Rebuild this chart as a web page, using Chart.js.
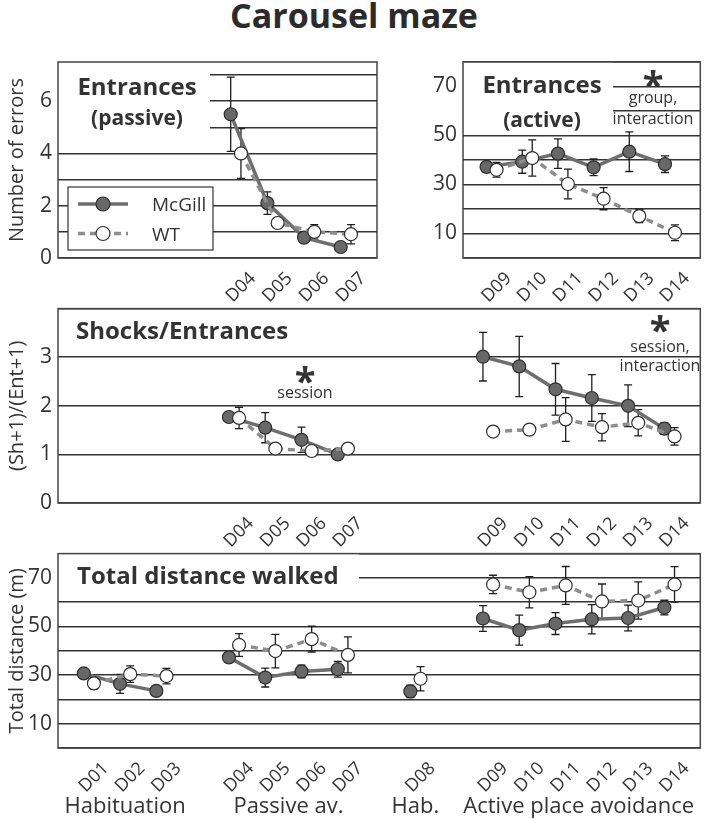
<!DOCTYPE html>
<html>
<head>
<meta charset="utf-8">
<script src="https://cdn.jsdelivr.net/npm/chart.js@4"></script>
<style>
body { margin: 0; background: #fff; }
#page { position: relative; width: 708px; height: 819px; overflow: hidden; font-family: "Open Sans", sans-serif; }
#title { position: absolute; left: 0; width: 708px; top: -5px; line-height: 40px; text-align: center; font-weight: 700; font-size: 34px; color: #2b2b2b; }
canvas { position: absolute; left: 0; }
</style>
</head>
<body>
<div id="page">
  <div id="title">Carousel maze</div>
  <canvas id="passive" width="708" height="263" style="top:40px"></canvas>
  <canvas id="active" width="708" height="263" style="top:40px"></canvas>
  <canvas id="shocks" width="708" height="258" style="top:290px"></canvas>
  <canvas id="distance" width="708" height="285" style="top:535px"></canvas>
</div>
<script>
// session tick labels, '' = empty slot between phases
const sessions = ['D01','D02','D03','','D04','D05','D06','D07','','D08','','D09','D10','D11','D12','D13','D14'];

// Entrances, passive avoidance
const passiveDays = ['D04','D05','D06','D07'];
const passiveMcGill = [5.5, 2.1, 0.78, 0.42];
const passiveMcGillSem = [1.42, 0.43, 0.1, 0.15];
const passiveWT = [4.0, 1.34, 1.0, 0.91];
const passiveWTSem = [0.95, 0.18, 0.28, 0.37];

// Entrances, active place avoidance
const activeDays = ['D09','D10','D11','D12','D13','D14'];
const activeMcGill = [37.2, 39.3, 42.6, 37.0, 43.4, 38.3];
const activeMcGillSem = [2.0, 4.7, 6.0, 3.4, 8.1, 3.4];
const activeWT = [36.0, 40.8, 30.2, 24.2, 17.1, 10.3];
const activeWTSem = [3.0, 7.4, 6.1, 4.5, 2.7, 3.2];

// Shocks/Entrances
const shockDays = ['D04','D05','D06','D07','D09','D10','D11','D12','D13','D14'];
const shockMcGill = [1.77, 1.55, 1.3, 1.0, 3.01, 2.81, 2.34, 2.16, 2.0, 1.53];
const shockMcGillSem = [0.08, 0.31, 0.26, 0.04, 0.5, 0.62, 0.53, 0.48, 0.43, 0.12];
const shockWT = [1.75, 1.12, 1.07, 1.12, 1.47, 1.51, 1.72, 1.56, 1.65, 1.37];
const shockWTSem = [0.22, 0.04, 0.04, 0.04, 0, 0, 0.45, 0.28, 0.27, 0.18];

// Total distance walked (m)
const distDays = ['D01','D02','D03','D04','D05','D06','D07','D08','D09','D10','D11','D12','D13','D14'];
const distMcGill = [30.7, 26.4, 23.5, 37.3, 29.0, 31.5, 32.4, 23.3, 53.3, 48.5, 51.2, 53.0, 53.5, 57.8];
const distMcGillSem = [1.2, 3.9, 1.0, 1.8, 3.9, 2.6, 3.2, 2.6, 5.3, 6.2, 4.5, 6.0, 5.3, 3.0];
const distWT = [26.6, 30.4, 29.6, 42.4, 39.9, 44.8, 38.3, 28.5, 67.3, 64.1, 66.9, 60.3, 60.7, 67.3];
const distWTSem = [2.4, 3.4, 3.2, 4.7, 6.9, 5.3, 7.4, 5.0, 3.8, 6.4, 7.8, 7.2, 7.7, 7.3];

// experiment phases under the bottom panel
const phases = [['Habituation','D01','D03'], ['Passive av.','D04','D07'], ['Hab.','D08','D08'], ['Active place avoidance','D09','D14']];

const TXT = '#333';
const FONT = '"Open Sans", sans-serif';

const mcgillStyle = {
	label: 'McGill',
	borderColor: '#6e6e6e',
	borderWidth: 3.5,
	pointRadius: 6.5,
	pointBackgroundColor: '#686868',
	pointBorderColor: '#2e2e2e',
	pointBorderWidth: 1.2,
	order: 1
};
const wtStyle = {
	label: 'WT',
	borderColor: '#8d8d8d',
	borderWidth: 3.5,
	borderDash: [7, 5],
	pointRadius: 6.5,
	pointBackgroundColor: '#fff',
	pointBorderColor: '#2e2e2e',
	pointBorderWidth: 1.2,
	order: 0
};

// build {x, y, e} points, breaking the line over empty slots
function points(days, values, sem, shift) {
	const out = [];
	days.forEach((d, i) => {
		const x = sessions.indexOf(d);
		if (i > 0 && x - sessions.indexOf(days[i - 1]) > 1) out.push({x: x - 1, y: null});
		out.push({x: x + shift, y: values[i], e: sem[i]});
	});
	return out;
}

const deco = {
	id: 'deco',
	beforeDatasetsDraw(chart) {
		const o = chart.options.plugins.deco;
		const a = chart.chartArea;
		const ctx = chart.ctx;
		const xs = chart.scales.x, ys = chart.scales.y;
		ctx.save();
		ctx.fillStyle = '#fff';
		(o.masks || []).forEach(m => ctx.fillRect(a.left + m[0], a.top + m[1], m[2], m[3]));
		ctx.strokeStyle = '#444';
		ctx.lineWidth = 1.5;
		ctx.strokeRect(a.left, a.top, a.right - a.left, a.bottom - a.top);

		ctx.fillStyle = TXT;
		(o.texts || []).forEach(t => {
			ctx.font = t.font;
			ctx.textAlign = t.align || 'center';
			ctx.textBaseline = 'alphabetic';
			ctx.fillText(t.text, a.left + t.x, a.top + t.y);
		});

		if (o.legend) {
			const L = o.legend;
			const lx = a.left + L[0], ly = a.top + L[1];
			ctx.fillStyle = '#fff';
			ctx.fillRect(lx, ly, L[2], L[3]);
			ctx.strokeStyle = '#333';
			ctx.lineWidth = 1.2;
			ctx.strokeRect(lx, ly, L[2], L[3]);
			[mcgillStyle, wtStyle].forEach((s, i) => {
				const cy = ly + 17 + i * 29.5;
				ctx.strokeStyle = s.borderColor;
				ctx.lineWidth = s.borderWidth;
				ctx.setLineDash(s.borderDash || []);
				ctx.beginPath();
				ctx.moveTo(lx + 10, cy);
				ctx.lineTo(lx + 60, cy);
				ctx.stroke();
				ctx.setLineDash([]);
				ctx.beginPath();
				ctx.arc(lx + 35, cy, s.pointRadius + 0.5, 0, Math.PI * 2);
				ctx.fillStyle = s.pointBackgroundColor;
				ctx.fill();
				ctx.lineWidth = s.pointBorderWidth;
				ctx.strokeStyle = s.pointBorderColor;
				ctx.stroke();
				ctx.fillStyle = TXT;
				ctx.font = '19px ' + FONT;
				ctx.textAlign = 'left';
				ctx.fillText(s.label, lx + 84, cy + 7);
			});
		}

		// error bars (sem)
		ctx.strokeStyle = '#1e1e1e';
		ctx.lineWidth = 1.3;
		chart.data.datasets.forEach(ds => {
			ds.data.forEach(p => {
				if (p.y == null || !p.e) return;
				const px = xs.getPixelForValue(p.x);
				const top = ys.getPixelForValue(p.y + p.e);
				const bot = ys.getPixelForValue(p.y - p.e);
				ctx.beginPath();
				ctx.moveTo(px, top); ctx.lineTo(px, bot);
				ctx.moveTo(px - 4, top); ctx.lineTo(px + 4, top);
				ctx.moveTo(px - 4, bot); ctx.lineTo(px + 4, bot);
				ctx.stroke();
			});
		});
		ctx.restore();
	},
	afterDraw(chart) {
		const o = chart.options.plugins.deco;
		if (!o.phases) return;
		const ctx = chart.ctx, xs = chart.scales.x, a = chart.chartArea;
		ctx.save();
		ctx.fillStyle = TXT;
		ctx.font = '22px ' + FONT;
		ctx.textAlign = 'center';
		o.phases.forEach(g => {
			const cx = (xs.getPixelForValue(sessions.indexOf(g[1])) + xs.getPixelForValue(sessions.indexOf(g[2]))) / 2;
			ctx.fillText(g[0], cx, a.bottom + 65);
		});
		ctx.restore();
	}
};

function panel(id, cfg) {
	const ctx = document.getElementById(id).getContext('2d');
	const datasets = [
		Object.assign({data: points(cfg.days, cfg.wt, cfg.wtSem, 0.14)}, wtStyle),
		Object.assign({data: points(cfg.days, cfg.mcgill, cfg.mcgillSem, -0.14)}, mcgillStyle)
	];
	return new Chart(ctx, {
		type: 'line',
		data: {datasets: datasets},
		plugins: [deco],
		options: {
			responsive: false,
			animation: false,
			devicePixelRatio: 1,
			spanGaps: false,
			layout: {padding: {left: 0, right: 708 - cfg.right, top: cfg.padTop, bottom: cfg.padBottom || 0}},
			scales: {
				x: {
					type: 'linear',
					min: cfg.xmin,
					max: cfg.xmax,
					grid: {display: false},
					border: {display: false},
					afterBuildTicks: s => { s.ticks = cfg.days.map(d => ({value: sessions.indexOf(d)})); },
					afterFit: s => { s.height = 45; },
					ticks: {
						autoSkip: false,
						minRotation: 45,
						maxRotation: 45,
						padding: 2,
						labelOffset: 17,
						color: TXT,
						font: {family: FONT, size: 18},
						callback: v => sessions[v]
					}
				},
				y: {
					min: 0,
					max: cfg.ymax,
					afterFit: s => { s.width = cfg.left; },
					grid: {color: '#333', lineWidth: 1.5, drawTicks: false},
					border: {display: false},
					ticks: {
						autoSkip: false,
						includeBounds: false,
						stepSize: cfg.step,
						padding: 6,
						color: TXT,
						font: {family: FONT, size: 21},
						callback: cfg.yLabel
					},
					title: {
						display: !!cfg.yTitle,
						text: cfg.yTitle,
						color: TXT,
						font: {family: FONT, size: 20},
						padding: {top: 5, bottom: 0}
					}
				}
			},
			plugins: {
				legend: {display: false},
				tooltip: {enabled: false},
				deco: cfg.deco
			}
		}
	});
}

const BOLD = 'bold 24px ' + FONT;
const BOLD2 = 'bold 21px ' + FONT;
const SMALL = '16px ' + FONT;
const STAR = 'bold 38px ' + FONT;

panel('passive', {
	days: passiveDays, mcgill: passiveMcGill, mcgillSem: passiveMcGillSem, wt: passiveWT, wtSem: passiveWTSem,
	left: 58, right: 377, padTop: 22, xmin: -0.85, xmax: 7.85, ymax: 7.5, step: 1,
	yLabel: v => (v % 2 === 0 && v <= 6 ? v : ''),
	yTitle: 'Number of errors',
	deco: {
		masks: [[0, 0, 152, 78]],
		texts: [
			{text: 'Entrances', font: BOLD, x: 79, y: 33},
			{text: '(passive)', font: BOLD2, x: 79, y: 63}
		],
		legend: [10, 125, 145, 63]
	}
});

panel('active', {
	days: activeDays, mcgill: activeMcGill, mcgillSem: activeMcGillSem, wt: activeWT, wtSem: activeWTSem,
	left: 463, right: 707, padTop: 22, xmin: 10.2, xmax: 16.85, ymax: 80, step: 10,
	yLabel: v => (v % 20 === 10 ? v : ''),
	deco: {
		masks: [[0, 0, 150, 68]],
		texts: [
			{text: 'Entrances', font: BOLD, x: 79, y: 31},
			{text: '(active)', font: BOLD2, x: 79, y: 65},
			{text: '*', font: STAR, x: 190, y: 37},
			{text: 'group,', font: SMALL, x: 190, y: 41},
			{text: 'interaction', font: SMALL, x: 190, y: 62}
		]
	}
});

panel('shocks', {
	days: shockDays, mcgill: shockMcGill, mcgillSem: shockMcGillSem, wt: shockWT, wtSem: shockWTSem,
	left: 58, right: 707, padTop: 17, xmin: -0.85, xmax: 16.85, ymax: 4, step: 1,
	yLabel: v => (v < 4 ? v : ''),
	yTitle: '(Sh+1)/(Ent+1)',
	deco: {
		texts: [
			{text: 'Shocks/Entrances', font: BOLD, x: 18, y: 30, align: 'left'},
			{text: '*', font: STAR, x: 247, y: 86},
			{text: 'session', font: SMALL, x: 247, y: 89},
			{text: '*', font: STAR, x: 602, y: 35},
			{text: 'session,', font: SMALL, x: 602, y: 43},
			{text: 'interaction', font: SMALL, x: 602, y: 62}
		]
	}
});

panel('distance', {
	days: distDays, mcgill: distMcGill, mcgillSem: distMcGillSem, wt: distWT, wtSem: distWTSem,
	left: 58, right: 707, padTop: 17, padBottom: 27, xmin: -0.85, xmax: 16.85, ymax: 80, step: 10,
	yLabel: v => (v % 20 === 10 ? v : ''),
	yTitle: 'Total distance (m)',
	deco: {
		masks: [[0, 0, 301, 38]],
		texts: [
			{text: 'Total distance walked', font: BOLD, x: 19, y: 30, align: 'left'}
		],
		phases: phases
	}
});
</script>
</body>
</html>
